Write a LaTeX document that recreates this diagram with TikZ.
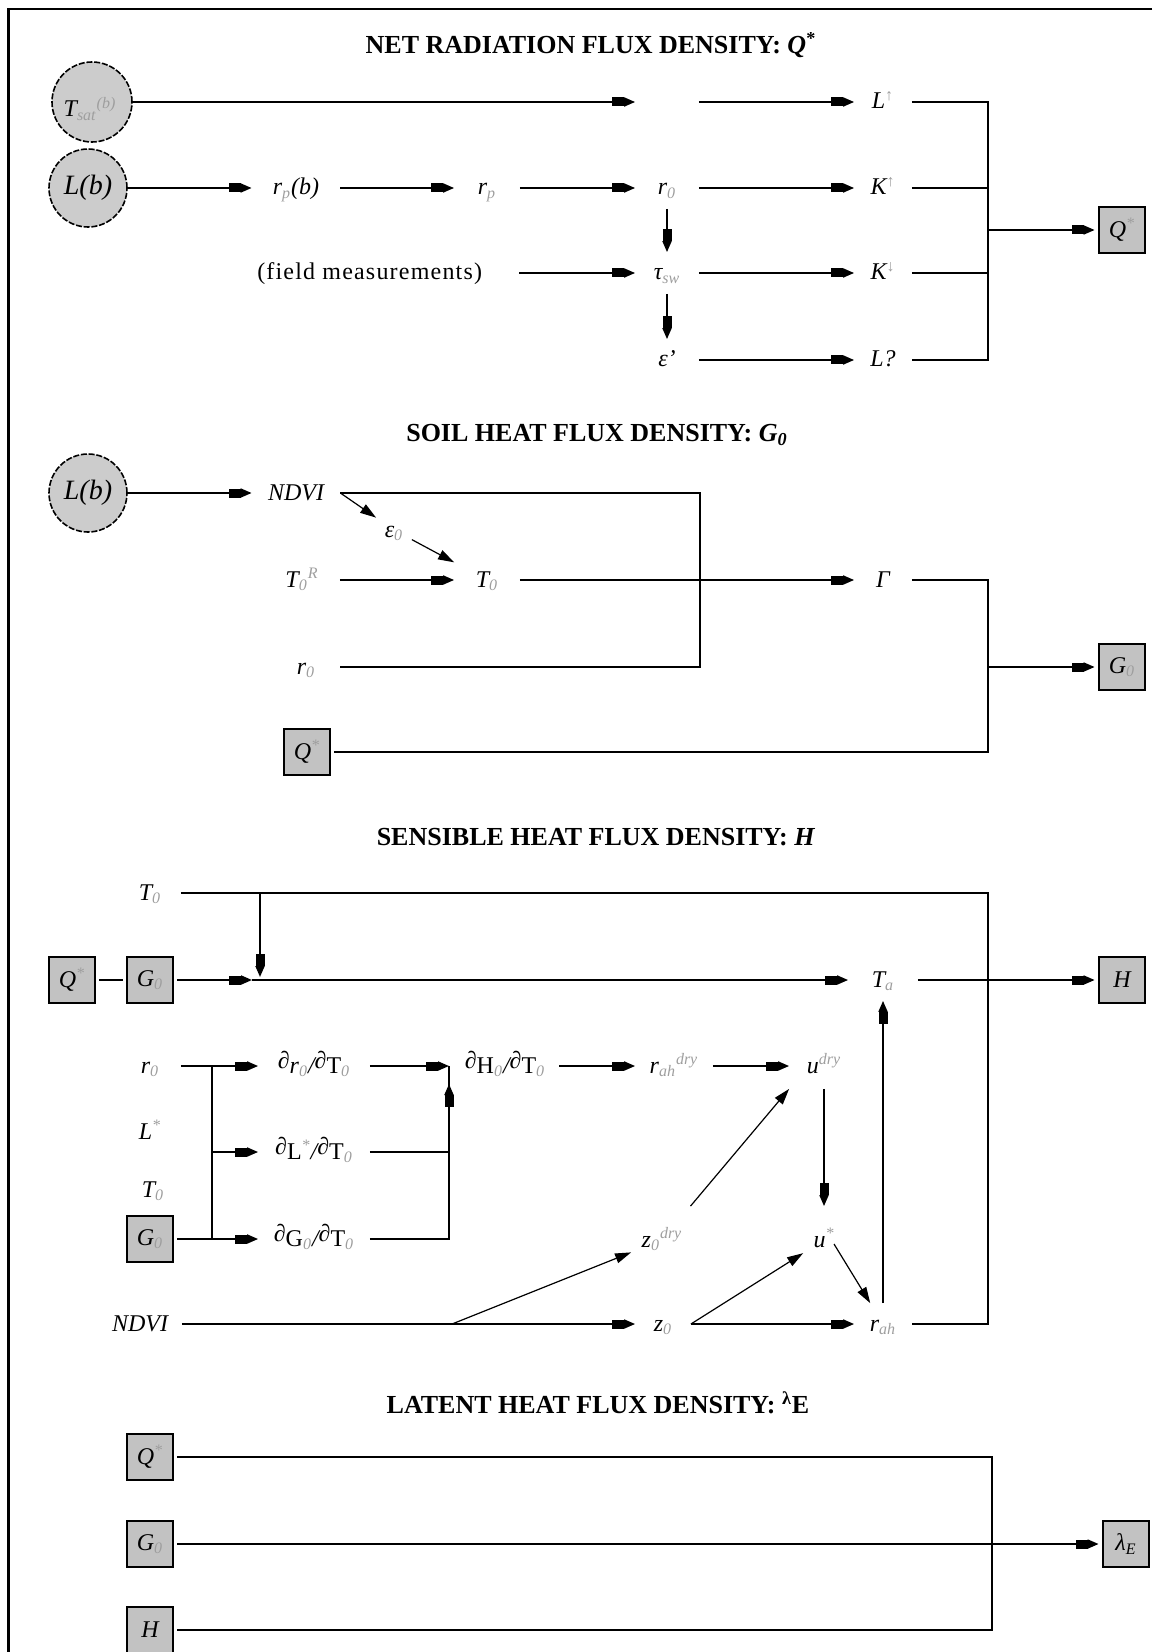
\documentclass[tikz,border=0pt]{standalone}
\usepackage{fontspec}
\setmainfont{Liberation Serif}
\usetikzlibrary{arrows.meta}
\definecolor{subg}{gray}{0.62}
\definecolor{boxg}{gray}{0.76}
\definecolor{circg}{gray}{0.80}
\newcommand\gsb[1]{\textsubscript{\color{subg}#1}}
\newcommand\gsp[1]{\textsuperscript{\color{subg}#1}}
\newcommand\pdd{\raisebox{2.5pt}{∂}}
\begin{document}
\begin{tikzpicture}[x=0.5pt,y=-0.5pt,line width=0.9pt,
  arr/.style={-{Rectangle[length=6pt,width=4.5pt]Triangle[length=5.5pt,width=4.5pt]}},
  darr/.style={line width=0.6pt,-{Triangle[length=8pt,width=5pt]}},
  lbl/.style={inner sep=0pt,minimum height=20pt,text height=9pt,text depth=2pt,font=\fontsize{12}{14}\selectfont\itshape},
  box/.style={draw,line width=1.1pt,fill=boxg,minimum width=23pt,minimum height=23pt,inner sep=0pt,outer sep=2.2pt,font=\fontsize{12}{14}\selectfont\itshape},
  circ/.style={circle,draw,dash pattern=on 3pt off 0.9pt,line width=0.8pt,fill=circg,minimum size=39pt,inner sep=0pt,font=\fontsize{14}{16}\selectfont\itshape},
  ttl/.style={font=\fontsize{13}{15}\selectfont\bfseries}]
\useasboundingbox (0,0) rectangle (1152,1652);
\draw[line width=1.2pt] (1152,9) -- (8.5,9) -- (8.5,1652);

% ---------------- Section 1
\node[ttl] (t1) at (591,45) {NET RADIATION FLUX DENSITY: \textit{Q}\textsuperscript{*}};
\node[circ,minimum size=40pt] (tsat) at (92,102) {};
\node[lbl] (tsatl) at (90,110) {T\gsb{sat}\gsp{(b)}};
\node[circ] (lb1) at (88,188) {L(b)};
\node[lbl,minimum width=43.5pt] (rpb) at (296,188) {r\gsb{p}(b)};
\node[lbl,minimum width=32pt] (rp) at (487,188) {r\gsb{p}};
\node[lbl,minimum width=31pt] (blank) at (667,102) {};
\node[lbl,minimum width=31pt] (r0a) at (667,188) {r\gsb{0}};
\node[lbl,minimum width=31pt] (tsw) at (667,273) {τ\gsb{sw}};
\node[lbl,minimum width=31pt] (epsp) at (667,360) {ε'};
\node[lbl,anchor=east,inner xsep=18pt,font=\fontsize{12}{14}\selectfont\addfontfeature{LetterSpace=5}] (fm) at (519,273) {(field measurements)};
\node[lbl,minimum width=28pt] (Lup) at (883,102) {L\gsp{↑}};
\node[lbl,minimum width=28pt] (Kup) at (883,188) {K\gsp{↑}};
\node[lbl,minimum width=28pt] (Kdn) at (883,273) {K\gsp{↓}};
\node[lbl,minimum width=28pt] (Lq) at (883,360) {L?};
\node[box] (Q1) at (1122,230) {Q\gsp{*}};
\coordinate (b1t) at (988,102);
\coordinate (b1k) at (988,188);
\coordinate (b1d) at (988,273);
\coordinate (b1b) at (988,360);
\coordinate (b1m) at (988,230);

\draw[arr] (tsat) -- (blank);
\draw[arr] (blank) -- (Lup);
\draw[arr] (lb1) -- (rpb);
\draw[arr] (rpb) -- (rp);
\draw[arr] (rp) -- (r0a);
\draw[arr] (r0a) -- (Kup);
\draw[arr] (r0a) -- (tsw);
\draw[arr] (tsw) -- (epsp);
\draw[arr] (fm) -- (tsw);
\draw[arr] (tsw) -- (Kdn);
\draw[arr] (epsp) -- (Lq);
\draw (Lup) -- (b1t) -- (b1b) -- (Lq);
\draw (Kup) -- (b1k);
\draw (Kdn) -- (b1d);
\draw[arr] (b1m) -- (Q1);

% ---------------- Section 2
\node[ttl] (t2) at (597,435) {SOIL HEAT FLUX DENSITY: \textit{G}\textsubscript{\textit{0}}};
\node[circ] (lb2) at (88,493) {L(b)};
\node[lbl,minimum width=43.5pt] (ndvi1) at (296,493) {NDVI};
\node[lbl,minimum width=17pt,minimum height=14pt] (eps0) at (394,530) {ε\gsb{0}};
\node[lbl,minimum width=37pt] (t0r) at (302,580) {T\gsb{0}\gsp{R}};
\node[lbl,minimum width=32pt] (t0b) at (487,580) {T\gsb{0}};
\node[lbl,minimum width=28pt] (gam) at (883,580) {Γ};
\node[lbl,minimum width=33pt] (r0b) at (306,667) {r\gsb{0}};
\node[box] (Q2) at (307,752) {Q\gsp{*}};
\node[box] (G2) at (1122,667) {G\gsb{0}};
\coordinate (n1) at (700,493);
\coordinate (n2) at (700,667);
\coordinate (g1) at (988,580);
\coordinate (g2) at (988,752);
\coordinate (g3) at (988,667);

\draw[arr] (lb2) -- (ndvi1);
\draw[darr] (ndvi1.east) -- (eps0);
\draw[darr] (eps0) -- (t0b);
\draw[arr] (t0r) -- (t0b);
\draw[arr] (t0b) -- (gam);
\draw (ndvi1) -- (n1) -- (n2) -- (r0b);
\draw (gam) -- (g1) -- (g2) -- (Q2);
\draw[arr] (g3) -- (G2);

% ---------------- Section 3
\node[ttl] (t3) at (596,837) {SENSIBLE HEAT FLUX DENSITY: \textit{H}};
\node[lbl,minimum width=30pt] (t0c) at (150,893) {T\gsb{0}};
\node[box] (Q3) at (72,980) {Q\gsp{*}};
\node[box] (G3) at (150,980) {G\gsb{0}};
\node[lbl,minimum width=34pt] (ta) at (883,980) {T\gsb{a}};
\node[box] (H3) at (1122,980) {H};
\node[lbl,minimum width=30pt] (r0c) at (150,1066) {r\gsb{0}};
\node[lbl] (Ls) at (150,1132) {L\gsp{*}};
\node[lbl] (t0d) at (153,1190) {T\gsb{0}};
\node[box] (G4) at (150,1239) {G\gsb{0}};
\node[lbl,minimum width=55pt] (drr) at (314,1066) {\pdd r\gsb{0}/\pdd\textup{T}\gsb{0}};
\node[lbl,minimum width=55pt] (dLL) at (314,1152) {\pdd\textup{L}\gsp{*}/\pdd\textup{T}\gsb{0}};
\node[lbl,minimum width=55pt] (dGG) at (314,1239) {\pdd\textup{G}\gsb{0}/\pdd\textup{T}\gsb{0}};
\node[lbl,minimum width=53.5pt] (dH) at (505,1066) {\pdd\textup{H}\gsb{0}/\pdd\textup{T}\gsb{0}};
\node[lbl,minimum width=38pt] (rahd) at (674,1066) {r\gsb{ah}\gsp{dry}};
\node[lbl,minimum width=34pt,minimum height=22pt] (udry) at (824,1066) {u\gsp{dry}};
\node[lbl,minimum width=20pt,minimum height=33pt] (ustar) at (824,1240) {u\gsp{*}};
\node[lbl,minimum width=30pt,minimum height=33pt] (z0d) at (662,1240) {z\gsb{0}\gsp{dry}};
\node[lbl,minimum width=41pt] (ndvi2) at (140,1324) {NDVI};
\node[lbl,minimum width=27pt] (z0) at (663,1324) {z\gsb{0}};
\node[lbl,minimum width=28pt] (rah) at (883,1324) {r\gsb{ah}};

\coordinate (j0) at (260,893);
\coordinate (j1) at (252,980);
\coordinate (j1v) at (260,977);
\coordinate (h1) at (988,893);
\coordinate (h2) at (988,1324);
\coordinate (jr) at (212,1066);
\coordinate (jL) at (212,1152);
\coordinate (jG) at (212,1239);
\coordinate (j2) at (449,1066);
\coordinate (jLr) at (449,1152);
\coordinate (jGr) at (449,1239);
\coordinate (jup) at (449,1084);
\coordinate (jn) at (452,1324);

\draw (Q3) -- (G3);
\draw[arr] (G3) -- (j1);
\draw[arr] (j0) -- (j1v);
\draw[arr] (j1) -- (ta);
\draw[arr] (ta) -- (H3);
\draw (t0c) -- (h1) -- (h2) -- (rah);
\draw (r0c) -- (jr) -- (jG) -- (G4);
\draw[arr] (jr) -- (drr);
\draw[arr] (jL) -- (dLL);
\draw[arr] (jG) -- (dGG);
\draw[arr] (drr) -- (j2);
\draw (dLL) -- (jLr);
\draw (dGG) -- (jGr) -- (j2);
\draw[arr] (jGr) -- (jup);
\draw[arr] (dH) -- (rahd);
\draw[arr] (rahd) -- (udry);
\draw[arr] (udry) -- (ustar);
\draw[darr] (z0d) -- (udry.south west);
\draw[arr] (ndvi2) -- (z0);
\draw[darr] (jn) -- (z0d);
\draw[darr] (z0.east) -- (ustar);
\draw[darr] ([xshift=5pt,yshift=-2pt]ustar.center) -- (rah);
\draw[arr] (z0) -- (rah);
\draw[arr] (rah) -- (ta);

% ---------------- Section 4
\node[ttl] (t4) at (598,1403) {LATENT HEAT FLUX DENSITY: \textsuperscript{λ}E};
\node[box] (Q5) at (150,1457) {Q\gsp{*}};
\node[box] (G5) at (150,1544) {G\gsb{0}};
\node[box] (H5) at (150,1630) {H};
\node[box] (LE) at (1126,1544) {λ\textsubscript{E}};
\coordinate (l1) at (992,1457);
\coordinate (l2) at (992,1630);
\draw (Q5) -- (l1) -- (l2) -- (H5);
\draw[arr] (G5) -- (LE);
\end{tikzpicture}
\end{document}
